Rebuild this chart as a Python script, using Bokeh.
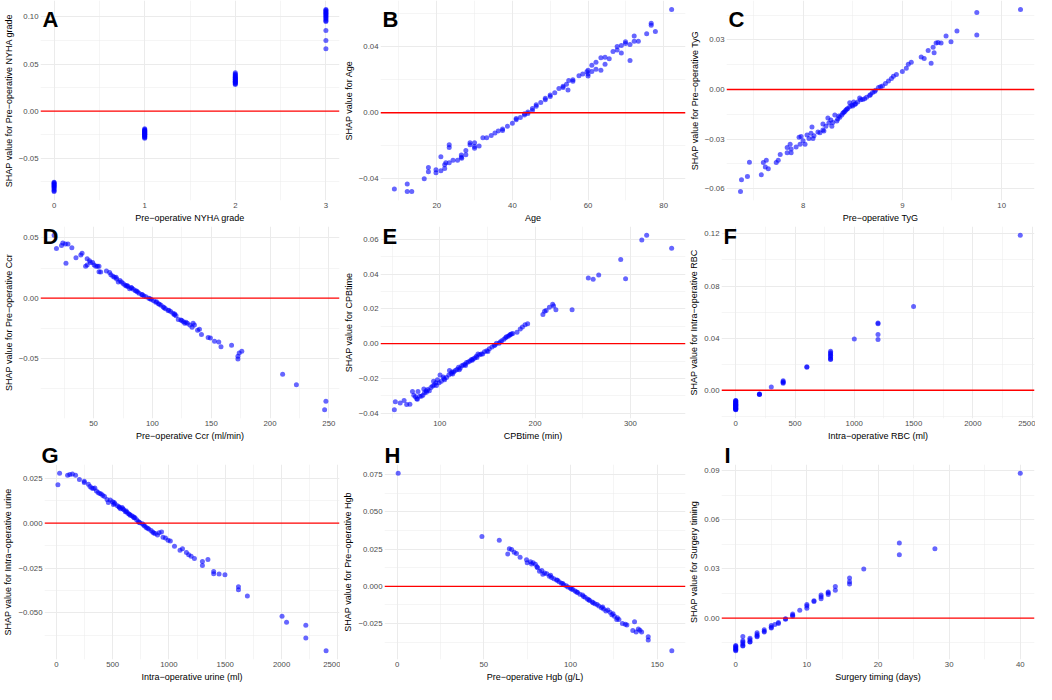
from bokeh.plotting import figure
from bokeh.models import Range1d, FixedTicker, CustomJSTickFormatter, Label, Title
from bokeh.layouts import column, row
from bokeh.embed import file_html
from bokeh.resources import INLINE

# ---------------- data ----------------
A_x = [0, 0, 0, 0, 0, 0, 0, 0, 0, 0, 0, 0,
       1, 1, 1, 1, 1, 1, 1, 1, 1, 1, 1, 1, 1, 1, 1, 1, 1, 1,
       2, 2, 2, 2, 2, 2, 2, 2, 2, 2, 2, 2, 2, 2, 2, 2, 2,
       3, 3, 3, 3, 3, 3, 3, 3, 3, 3, 3, 3, 3, 3, 3, 3]
A_y = [-0.0755, -0.0762, -0.0770, -0.0778, -0.0785, -0.0793, -0.0800, -0.0810, -0.0820, -0.0832, -0.0845, -0.0853,
       -0.0187, -0.0195, -0.0203, -0.0210, -0.0215, -0.0220, -0.0225, -0.0230, -0.0235, -0.0240, -0.0245, -0.0250,
       -0.0255, -0.0260, -0.0266, -0.0272, -0.0280, -0.0289,
       0.0282, 0.0290, 0.0298, 0.0305, 0.0312, 0.0318, 0.0325, 0.0332, 0.0338, 0.0345, 0.0352, 0.0360, 0.0368,
       0.0376, 0.0385, 0.0395, 0.0408,
       0.1078, 0.1070, 0.1060, 0.1050, 0.1040, 0.1030, 0.1020, 0.1010, 0.1000, 0.0990, 0.0975, 0.0960, 0.0952,
       0.0857, 0.0751, 0.0663]

B_x = [8.8, 12.2, 12.2, 13.4, 16.7, 17.8, 17.8, 19.8, 19.8, 21.1, 21.1, 22.1, 22.1, 22.4, 23.3, 23.3, 23.3, 24.3,
       25.5, 26.5, 26.5, 26.6, 27.7, 27.7, 28.8, 28.8, 30.0, 30.0, 30.0, 31.2, 32.2, 33.2, 34.4, 35.4, 36.3, 37.4,
       37.4, 38.7, 40.0, 41.0, 41.0, 42.1, 43.2, 43.2, 44.1, 44.1, 45.3, 45.3, 46.3, 46.3, 47.5, 48.7, 48.7, 50.0,
       50.0, 51.2, 52.3, 53.4, 53.4, 54.3, 54.7, 54.9, 56.0, 56.0, 57.6, 58.6, 59.7, 60.0, 60.0, 60.0, 61.0, 61.0,
       62.1, 62.1, 63.4, 63.4, 64.5, 64.5, 65.6, 66.6, 67.7, 67.7, 68.8, 68.8, 69.9, 69.9, 71.1, 71.1, 72.2, 72.2,
       73.3, 75.5, 76.7, 76.7, 77.8, 82.1]
B_y = [-0.0462, -0.0431, -0.0476, -0.0476, -0.0400, -0.0332, -0.0357, -0.0345, -0.0363, -0.0267, -0.0351, -0.0314,
       -0.0337, -0.0302, -0.0302, -0.0193, -0.0211, -0.0287, -0.0287, -0.0255, -0.0269, -0.0275, -0.0254, -0.0228,
       -0.0181, -0.0193, -0.0181, -0.0205, -0.0215, -0.0201, -0.0152, -0.0152, -0.0137, -0.0123, -0.0111, -0.0098,
       -0.0107, -0.0082, -0.0064, -0.0035, -0.0043, -0.0029, -0.0006, -0.0014, 0.0004, -0.0004, 0.0025, 0.0014,
       0.0049, 0.0039, 0.0062, 0.0088, 0.0078, 0.0107, 0.0098, 0.0121, 0.0146, 0.0160, 0.0152, 0.0172, 0.0137,
       0.0195, 0.0199, 0.0191, 0.0224, 0.0234, 0.0248, 0.0234, 0.0257, 0.0222, 0.0287, 0.0250, 0.0306, 0.0263,
       0.0332, 0.0257, 0.0335, 0.0293, 0.0326, 0.0371, 0.0400, 0.0380, 0.0406, 0.0361, 0.0429, 0.0419, 0.0316,
       0.0413, 0.0464, 0.0433, 0.0433, 0.0478, 0.0542, 0.0530, 0.0491, 0.0624]

C_x = [7.37, 7.38, 7.44, 7.46, 7.58, 7.60, 7.62, 7.63, 7.65, 7.73, 7.75, 7.77, 7.84, 7.84, 7.87, 7.88, 7.88, 7.93,
       7.96, 7.97, 7.98, 8.00, 8.02, 8.04, 8.06, 8.08, 8.09, 8.10, 8.11, 8.15, 8.17, 8.20, 8.20, 8.21, 8.23, 8.25,
       8.26, 8.29, 8.30, 8.32, 8.34, 8.35, 8.37, 8.39, 8.40, 8.42, 8.43, 8.45, 8.47, 8.47, 8.49, 8.51, 8.53, 8.55,
       8.57, 8.58, 8.62, 8.64, 8.67, 8.70, 8.73, 8.76, 8.80, 8.83, 8.86, 8.89, 8.91, 8.94, 9.00, 9.04, 9.06, 9.09,
       9.19, 9.22, 9.26, 9.29, 9.31, 9.32, 9.34, 9.36, 9.39, 9.44, 9.49, 9.55, 9.75, 9.75, 10.19,
       8.28, 8.36, 8.44, 8.52, 8.60, 8.68, 8.72, 8.78, 8.50, 8.41]
C_y = [-0.0616, -0.0545, -0.0526, -0.0440, -0.0516, -0.0442, -0.0469, -0.0427, -0.0479, -0.0442, -0.0427, -0.0393,
       -0.0351, -0.0382, -0.0331, -0.0360, -0.0382, -0.0347, -0.0288, -0.0331, -0.0284, -0.0310, -0.0331, -0.0275,
       -0.0296, -0.0265, -0.0226, -0.0296, -0.0280, -0.0257, -0.0261, -0.0245, -0.0208, -0.0251, -0.0222, -0.0173,
       -0.0203, -0.0222, -0.0199, -0.0154, -0.0191, -0.0179, -0.0168, -0.0154, -0.0144, -0.0134, -0.0125, -0.0115,
       -0.0105, -0.0080, -0.0095, -0.0076, -0.0086, -0.0076, -0.0051, -0.0062, -0.0056, -0.0047, -0.0037, -0.0018,
       -0.0004, 0.0012, 0.0021, 0.0037, 0.0051, 0.0066, 0.0080, 0.0090, 0.0109, 0.0129, 0.0152, 0.0164, 0.0197,
       0.0187, 0.0236, 0.0158, 0.0255, 0.0222, 0.0281, 0.0284, 0.0281, 0.0323, 0.0288, 0.0353, 0.0466, 0.0329,
       0.0483,
       -0.0185, -0.0160, -0.0120, -0.0090, -0.0060, -0.0030, -0.0012, 0.0016, -0.0100, -0.0138]

D_x = [16.4, 18.4, 22.7, 23.8, 26.0, 28.2, 26.5, 31.5, 35.0, 39.1, 40.2, 43.2, 44.5, 44.5, 46.5, 47.3, 49.2, 50.5,
       51.9, 53.3, 54.6, 54.6, 56.0, 60.9, 63.6, 64.7, 66.4, 67.7, 69.1, 69.6, 71.0, 72.4, 73.7, 75.1, 76.5, 77.8,
       79.2, 80.6, 81.9, 83.8, 85.5, 87.4, 88.7, 90.9, 92.8, 94.5, 96.9, 99.1, 101.0, 102.9, 105.1, 107.3, 109.2,
       111.1, 113.3, 115.5, 117.4, 118.7, 120.1, 122.0, 124.2, 126.4, 127.5, 129.7, 131.8, 133.7, 134.6, 135.7,
       138.4, 140.0, 141.7, 147.4, 149.3, 152.8, 156.4, 158.3, 167.3, 172.7, 172.7, 173.8, 176.0, 210.7, 222.4,
       247.5, 246.4,
       78.5, 82.5, 86.5, 91.5, 98.0, 103.5, 106.0, 110.0, 114.0, 119.0, 125.0, 128.5]
D_y = [0.0522, 0.0411, 0.0437, 0.0457, 0.0450, 0.0450, 0.0289, 0.0419, 0.0336, 0.0359, 0.0372, 0.0264, 0.0328,
       0.0276, 0.0310, 0.0295, 0.0295, 0.0276, 0.0264, 0.0264, 0.0264, 0.0220, 0.0217, 0.0225, 0.0212, 0.0194,
       0.0181, 0.0173, 0.0173, 0.0160, 0.0134, 0.0147, 0.0134, 0.0121, 0.0109, 0.0101, 0.0096, 0.0078, 0.0088,
       0.0075, 0.0062, 0.0052, 0.0041, 0.0031, 0.0018, 0.0013, 0.0000, -0.0010, -0.0021, -0.0034, -0.0047,
       -0.0059, -0.0072, -0.0088, -0.0103, -0.0111, -0.0124, -0.0137, -0.0145, -0.0176, -0.0181, -0.0196,
       -0.0207, -0.0207, -0.0222, -0.0240, -0.0207, -0.0222, -0.0266, -0.0258, -0.0300, -0.0326, -0.0331,
       -0.0357, -0.0364, -0.0403, -0.0390, -0.0504, -0.0481, -0.0455, -0.0439, -0.0631, -0.0718, -0.0855, -0.0925,
       0.0105, 0.0085, 0.0060, 0.0028, -0.0005, -0.0030, -0.0050, -0.0080, -0.0100, -0.0130, -0.0185, -0.0200]

E_x = [52.4, 53.4, 58.5, 62.6, 65.3, 68.7, 71.4, 72.8, 74.5, 75.9, 77.2, 78.9, 80.6, 82.3, 83.3, 84.0, 85.7, 87.4,
       89.1, 90.8, 92.5, 93.5, 94.2, 95.9, 97.6, 99.3, 100.3, 101.7, 103.7, 105.1, 107.1, 109.5, 110.2, 111.9,
       112.9, 114.6, 116.3, 118.0, 119.7, 121.4, 123.1, 124.8, 126.5, 128.2, 129.9, 131.6, 133.3, 135.0, 136.7,
       138.4, 140.1, 141.8, 143.5, 146.9, 149.3, 152.0, 154.8, 157.1, 159.5, 162.2, 165.0, 167.3, 169.0, 171.8,
       173.1, 175.2, 176.5, 181.0, 184.4, 186.7, 189.5, 192.2, 208.2, 209.9, 211.6, 215.0, 218.4, 219.4, 221.8,
       238.8, 255.8, 260.9, 266.7, 289.8, 294.9, 311.9, 317.0, 343.2,
       76.5, 86.0, 96.5, 104.5, 113.5, 120.5, 127.0, 134.0, 139.0, 145.0, 150.5, 158.0, 163.5, 170.0, 174.0]
E_y = [-0.0380, -0.0334, -0.0341, -0.0327, -0.0350, -0.0348, -0.0275, -0.0296, -0.0305, -0.0316, -0.0275, -0.0302,
       -0.0302, -0.0296, -0.0261, -0.0282, -0.0270, -0.0264, -0.0270, -0.0252, -0.0243, -0.0216, -0.0238, -0.0225,
       -0.0207, -0.0225, -0.0180, -0.0216, -0.0191, -0.0207, -0.0195, -0.0180, -0.0155, -0.0171, -0.0163, -0.0163,
       -0.0154, -0.0148, -0.0136, -0.0141, -0.0127, -0.0123, -0.0118, -0.0109, -0.0105, -0.0100, -0.0091, -0.0088,
       -0.0082, -0.0073, -0.0059, -0.0064, -0.0059, -0.0046, -0.0041, -0.0030, -0.0020, -0.0011, 0.0002, 0.0002,
       0.0016, 0.0025, 0.0034, 0.0043, 0.0048, 0.0055, 0.0059, 0.0066, 0.0084, 0.0096, 0.0109, 0.0114, 0.0168,
       0.0186, 0.0191, 0.0209, 0.0227, 0.0216, 0.0195, 0.0195, 0.0377, 0.0370, 0.0395, 0.0484, 0.0373, 0.0595,
       0.0623, 0.0548,
       -0.0320, -0.0280, -0.0240, -0.0200, -0.0175, -0.0150, -0.0125, -0.0095, -0.0080, -0.0060, -0.0045, -0.0008,
       0.0010, 0.0040, 0.0052]

F_x = [0, 0, 0, 0, 0, 0, 0, 0, 0, 0, 0, 0, 0, 0, 0, 0, 0, 0, 0, 0,
       200, 200, 200, 300, 400, 400, 400, 400, 600, 600,
       800, 800, 800, 800, 800, 800, 800, 800, 1000, 1200, 1200, 1200, 1200, 1500, 2400]
F_y = [-0.0078, -0.0080, -0.0085, -0.0092, -0.0095, -0.0100, -0.0105, -0.0108, -0.0112, -0.0115, -0.0118, -0.0122,
       -0.0125, -0.0130, -0.0135, -0.0138, -0.0142, -0.0145, -0.0148, -0.0150,
       -0.0031, -0.0033, -0.0029, 0.0024, 0.0072, 0.0065, 0.0060, 0.0053, 0.0180, 0.0176,
       0.0300, 0.0288, 0.0280, 0.0268, 0.0262, 0.0250, 0.0240, 0.0235, 0.0394, 0.0516, 0.0510, 0.0427, 0.0389,
       0.0643, 0.1190]

G_x = [14, 29, 100, 120, 143, 171, 205, 248, 248, 285, 299, 314, 328, 342, 356, 371, 385, 399, 413, 428, 450, 462,
       479, 499, 507, 513, 542, 556, 570, 584, 599, 613, 627, 641, 656, 670, 684, 698, 713, 727, 741, 764, 784, 798,
       821, 841, 855, 878, 898, 912, 935, 947, 969, 992, 1012, 1049, 1098, 1120, 1155, 1175, 1197, 1226, 1297,
       1297, 1346, 1397, 1397, 1445, 1497, 1617, 1617, 1696, 2004, 2044, 2215, 2215, 2395,
       520, 560, 590, 620, 650, 690, 735, 775, 810, 865]
G_y = [0.0214, 0.0278, 0.0268, 0.0272, 0.0275, 0.0268, 0.0244, 0.0234, 0.0227, 0.0217, 0.0205, 0.0197, 0.0193,
       0.0197, 0.0180, 0.0171, 0.0166, 0.0163, 0.0154, 0.0149, 0.0132, 0.0115, 0.0129, 0.0120, 0.0104, 0.0115,
       0.0098, 0.0092, 0.0081, 0.0087, 0.0075, 0.0064, 0.0061, 0.0053, 0.0044, 0.0041, 0.0036, 0.0031, 0.0019,
       0.0010, 0.0002, -0.0003, -0.0015, -0.0024, -0.0032, -0.0041, -0.0049, -0.0058, -0.0066, -0.0054, -0.0049,
       -0.0078, -0.0083, -0.0095, -0.0100, -0.0129, -0.0151, -0.0143, -0.0163, -0.0176, -0.0185, -0.0197, -0.0214,
       -0.0236, -0.0202, -0.0270, -0.0282, -0.0283, -0.0288, -0.0355, -0.0372, -0.0406, -0.0519, -0.0553, -0.0570,
       -0.0640, -0.0711,
       0.0108, 0.0088, 0.0080, 0.0068, 0.0050, 0.0030, 0.0005, -0.0010, -0.0028, -0.0055]

H_x = [0.6, 48.9, 58.9, 63.8, 64.7, 66.0, 67.5, 68.8, 70.9, 74.6, 75.0, 76.9, 78.4, 79.7, 80.6, 82.1, 83.4, 84.0,
       86.3, 87.8, 89.1, 90.4, 91.9, 93.4, 94.7, 96.0, 97.5, 98.4, 99.8, 101.3, 102.6, 104.1, 105.4, 106.9, 108.4,
       109.7, 111.0, 112.5, 114.0, 115.3, 116.3, 117.8, 119.1, 120.4, 121.5, 122.8, 123.8, 125.3, 126.6, 127.9,
       129.9, 131.6, 135.9, 136.9, 137.8, 139.1, 141.0, 144.8, 144.8, 158.4,
       77.5, 81.0, 85.0, 88.5, 92.5, 95.5, 100.5, 103.5, 107.5, 110.5, 113.0, 118.5, 124.5, 127.0, 132.5, 140.0]
H_y = [0.0760, 0.0335, 0.0310, 0.0217, 0.0253, 0.0248, 0.0229, 0.0221, 0.0195, 0.0178, 0.0159, 0.0166, 0.0159,
       0.0149, 0.0132, 0.0102, 0.0106, 0.0081, 0.0085, 0.0068, 0.0059, 0.0051, 0.0042, 0.0030, 0.0021, 0.0011,
       0.0004, -0.0004, -0.0011, -0.0021, -0.0032, -0.0042, -0.0053, -0.0059, -0.0074, -0.0085, -0.0096, -0.0106,
       -0.0117, -0.0123, -0.0132, -0.0144, -0.0153, -0.0166, -0.0159, -0.0174, -0.0191, -0.0202, -0.0223, -0.0223,
       -0.0251, -0.0255, -0.0297, -0.0238, -0.0308, -0.0287, -0.0308, -0.0340, -0.0361, -0.0433,
       0.0150, 0.0125, 0.0090, 0.0075, 0.0040, 0.0018, -0.0018, -0.0038, -0.0068, -0.0090, -0.0110, -0.0140,
       -0.0185, -0.0212, -0.0260, -0.0295]

I_x = [0, 0, 0, 0, 0, 0, 0, 1, 1, 1, 1, 1, 1, 2, 2, 2, 2, 3, 3, 3, 3, 4, 4, 4, 5, 5, 5, 5.5, 6, 6, 7, 7,
       8, 8, 8, 9, 10, 10, 10, 11, 11, 12, 12, 12, 13, 13, 13, 14, 14, 16, 16, 16, 18, 23, 23, 28, 40]
I_y = [-0.0167, -0.0172, -0.0178, -0.0184, -0.0190, -0.0195, -0.0199, -0.0113, -0.0138, -0.0147, -0.0157, -0.0167,
       -0.0170, -0.0123, -0.0132, -0.0144, -0.0147, -0.0090, -0.0101, -0.0109, -0.0115, -0.0071, -0.0080, -0.0086,
       -0.0046, -0.0056, -0.0061, -0.0040, -0.0027, -0.0033, -0.0004, -0.0008, 0.0025, 0.0017, 0.0011, 0.0048,
       0.0082, 0.0073, 0.0059, 0.0105, 0.0101, 0.0140, 0.0130, 0.0117, 0.0159, 0.0153, 0.0144, 0.0193, 0.0169,
       0.0245, 0.0222, 0.0207, 0.0299, 0.0458, 0.0387, 0.0423, 0.0883]

# ---------------- ticks ----------------
A_xt = [0, 1, 2, 3];              A_xm = [0.5, 1.5, 2.5]
A_yt = [-0.05, 0.0, 0.05, 0.10];  A_ym = [-0.075, -0.025, 0.025, 0.075]
B_xt = [20, 40, 60, 80];          B_xm = [10, 30, 50, 70]
B_yt = [-0.04, 0.0, 0.04];        B_ym = [-0.06, -0.02, 0.02, 0.06]
C_xt = [8, 9, 10];                C_xm = [7.5, 8.5, 9.5]
C_yt = [-0.06, -0.03, 0.0, 0.03]; C_ym = [-0.045, -0.015, 0.015, 0.045]
D_xt = [50, 100, 150, 200, 250];  D_xm = [25, 75, 125, 175, 225]
D_yt = [-0.05, 0.0, 0.05];        D_ym = [-0.075, -0.025, 0.025]
E_xt = [100, 200, 300];           E_xm = [50, 150, 250]
E_yt = [-0.04, -0.02, 0.0, 0.02, 0.04, 0.06]; E_ym = [-0.03, -0.01, 0.01, 0.03, 0.05]
F_xt = [0, 500, 1000, 1500, 2000, 2500]; F_xm = [250, 750, 1250, 1750, 2250]
F_yt = [0.0, 0.04, 0.08, 0.12];   F_ym = [-0.02, 0.02, 0.06, 0.10]
G_xt = [0, 500, 1000, 1500, 2000, 2500]; G_xm = [250, 750, 1250, 1750, 2250]
G_yt = [-0.05, -0.025, 0.0, 0.025]; G_ym = [-0.0625, -0.0375, -0.0125, 0.0125]
H_xt = [0, 50, 100, 150];         H_xm = [25, 75, 125]
H_yt = [-0.025, 0.0, 0.025, 0.05, 0.075]; H_ym = [-0.0375, -0.0125, 0.0125, 0.0375, 0.0625]
I_xt = [0, 10, 20, 30, 40];       I_xm = [5, 15, 25, 35]
I_yt = [0.0, 0.03, 0.06, 0.09];   I_ym = [-0.015, 0.015, 0.045, 0.075]

M = "\u2212"
FONT = "Liberation Sans"
WIDTHS = [340, 346, 349]


def fmt(dec):
    return CustomJSTickFormatter(code=(
        "const s = Math.abs(tick).toFixed(%d);"
        "return (tick < -1e-12 ? '\u2212' : '') + s;" % dec))


def panel(letter, xs, ys, xlab, ylab, xt, xm, yt, ym, ydec, width, height, top, frame_h,
          letter_y=0, above_offset=None):
    x0, x1 = min(xs), max(xs)
    y0, y1 = min(ys), max(ys)
    px = 0.05 * (x1 - x0)
    py = 0.05 * (y1 - y0)
    xr = Range1d(x0 - px, x1 + px)
    yr = Range1d(y0 - py, y1 + py)
    p = figure(width=width, height=height, output_backend="svg", toolbar_location=None, title=None,
               x_range=xr, y_range=yr, min_border_left=0, min_border_right=1,
               min_border_top=top, min_border_bottom=0)
    p.outline_line_color = None
    p.background_fill_color = "white"
    p.border_fill_color = "white"
    xtk = FixedTicker(ticks=xt, minor_ticks=xm)
    ytk = FixedTicker(ticks=yt, minor_ticks=ym)
    p.xaxis.ticker = xtk
    p.yaxis.ticker = ytk
    p.xgrid.ticker = xtk
    p.ygrid.ticker = FixedTicker(ticks=[t for t in yt if t != 0], minor_ticks=ym)
    p.xaxis.formatter = fmt(0)
    p.yaxis.formatter = fmt(ydec)
    p.xaxis.axis_label = xlab
    p.yaxis.axis_label = ylab
    for ax in (p.xaxis[0], p.yaxis[0]):
        ax.axis_line_color = None
        ax.major_tick_line_color = None
        ax.minor_tick_line_color = None
        ax.major_tick_out = 0
        ax.major_tick_in = 0
        ax.minor_tick_out = 0
        ax.major_label_text_font = FONT
        ax.major_label_text_font_size = "7.8px"
        ax.major_label_text_color = "#4D4D4D"
        ax.axis_label_text_font = FONT
        ax.axis_label_text_font_size = "9px"
        ax.axis_label_text_font_style = "normal"
        ax.axis_label_text_color = "black"
        ax.major_label_standoff = 2
        ax.axis_label_standoff = 2
    for g in (p.xgrid[0], p.ygrid[0]):
        g.grid_line_color = "#EBEBEB"
        g.grid_line_width = 1
        g.minor_grid_line_color = "#EBEBEB"
        g.minor_grid_line_width = 0.5
    p.scatter(xs, ys, size=5, fill_color="#0000FF", fill_alpha=0.6, line_color=None)
    # zero reference line: a thin red band (about 1.3 px) across the panel
    half = 0.65 * (yr.end - yr.start) / frame_h
    p.quad(left=[xr.start], right=[xr.end], bottom=[-half], top=[half],
           fill_color="#FF0000", fill_alpha=1.0, line_color=None)
    if above_offset is not None:
        p.add_layout(Title(text=letter, align="left", offset=above_offset, standoff=-6,
                           text_font=FONT, text_font_size="22px", text_font_style="bold",
                           text_color="black"), "above")
    else:
        p.add_layout(Label(x=2, y=letter_y, x_units="screen", y_units="canvas", text=letter,
                           text_font=FONT, text_font_size="22px",
                           text_font_style="bold", text_color="black",
                           text_align="left", text_baseline="top"))
    return p


H1, H2, H3 = 225, 218, 241
F1, F2, F3 = 201, 193, 194
W1, W2, W3 = WIDTHS

pA = panel("A", A_x, A_y, f"Pre{M}operative NYHA grade", f"SHAP value for Pre{M}operative NYHA grade",
           A_xt, A_xm, A_yt, A_ym, 2, W1, H1, 0, F1, letter_y=6)
pB = panel("B", B_x, B_y, "Age", "SHAP value for Age", B_xt, B_xm, B_yt, B_ym, 2, W2, H1, 0, F1, letter_y=6)
pC = panel("C", C_x, C_y, f"Pre{M}operative TyG", f"SHAP value for Pre{M}operative TyG",
           C_xt, C_xm, C_yt, C_ym, 2, W3, H1, 0, F1, letter_y=6)
pD = panel("D", D_x, D_y, f"Pre{M}operative Ccr (ml/min)", f"SHAP value for Pre{M}operative Ccr",
           D_xt, D_xm, D_yt, D_ym, 2, W1, H2, 1, F2, letter_y=-2)
pE = panel("E", E_x, E_y, "CPBtime (min)", "SHAP value for CPBtime",
           E_xt, E_xm, E_yt, E_ym, 2, W2, H2, 1, F2, letter_y=-2)
pF = panel("F", F_x, F_y, f"Intra{M}operative RBC (ml)", f"SHAP value for Intra{M}operative RBC",
           F_xt, F_xm, F_yt, F_ym, 2, W3, H2, 1, F2, letter_y=-2)
pG = panel("G", G_x, G_y, f"Intra{M}operative urine (ml)", f"SHAP value for Intra{M}operative urine",
           G_xt, G_xm, G_yt, G_ym, 3, W1, H3, 0, F3, above_offset=-3)
pH = panel("H", H_x, H_y, f"Pre{M}operative Hgb (g/L)", f"SHAP value for Pre{M}operative Hgb",
           H_xt, H_xm, H_yt, H_ym, 3, W2, H3, 0, F3, above_offset=0)
pI = panel("I", I_x, I_y, "Surgery timing (days)", "SHAP value for Surgery timing",
           I_xt, I_xm, I_yt, I_ym, 2, W3, H3, 0, F3, above_offset=3)

layout = column(row(pA, pB, pC), row(pD, pE, pF), row(pG, pH, pI))

open("out.html", "w", encoding="utf-8").write(file_html(layout, INLINE, title="SHAP dependence plots"))
